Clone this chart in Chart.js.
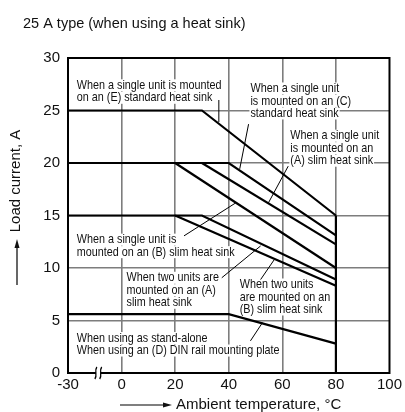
<!DOCTYPE html>
<html>
<head>
<meta charset="utf-8">
<script src="https://cdn.jsdelivr.net/npm/chart.js@4"></script>
<style>
  html, body { margin:0; padding:0; background:#fff; }
  canvas { display:block; }
</style>
</head>
<body>
<canvas id="derating" width="405" height="412"></canvas>
<script>
// ambient temperature (degC) / load current (A) for each curve
const tempE = [-30, 30, 80];        const loadE = [25, 25, 15];
const tempC = [-30, 40, 80];        const loadC = [20, 20, 13.1];
const tempSlimA = [30, 80];         const loadSlimA = [20, 12.25];
const tempSlimB = [20, 80];         const loadSlimB = [20, 10];
const tempTwoA = [-30, 30, 80];     const loadTwoA = [15, 15, 8.9];
const tempTwoB = [20, 80];          const loadTwoB = [15, 8.3];
const tempAlone = [-30, 40, 80];    const loadAlone = [5.6, 5.6, 2.8];
const tempLimit = [80, 80];         const loadLimit = [15, 0];

const xTickLabels = ['-30', '0', '20', '40', '60', '80', '100'];
const yTickLabels = ['0', '5', '10', '15', '20', '25', '30'];

// the -30..0 span is drawn compressed (axis break), -30 sits where -20 would be
const breakX = t => t < 0 ? t * 2 / 3 : t;

const FONT = "'Liberation Sans', Arial, sans-serif";
const NOTE_FONT = "13px 'Liberation Sans', Arial, sans-serif";
const NOTE_SX = 0.83;   // condensed look of the datasheet notes

function curve(xs, ys){
  return {
    data: xs.map((x, i) => ({ x: breakX(x), y: ys[i] })),
    showLine: true,
    borderColor: '#000',
    borderWidth: 2.2,
    pointRadius: 0,
    tension: 0,
    fill: false
  };
}

// notes: position in axis units (first line), leader from/to in axis units
const notes = [
  { lines: ['When a single unit is mounted', 'on an (E) standard heat sink'], x: -16.7, y: 27.4,
    leader: [[36.3, 26.0], [36.3, 23.9]] },
  { lines: ['When a single unit', 'is mounted on an (C)', 'standard heat sink'], x: 48.1, y: 27.1,
    leader: [[47.4, 23.7], [44.1, 19.44]] },
  { lines: ['When a single unit', 'is mounted on an', '(A) slim heat sink'], x: 63.0, y: 22.6,
    leader: [[62.2, 19.7], [54.8, 16.2]] },
  { lines: ['When a single unit is', 'mounted on an (B) slim heat sink'], x: -16.7, y: 12.7,
    leader: [[23.3, 13.06], [42.6, 16.2]] },
  { lines: ['When two units are', 'mounted on an (A)', 'slim heat sink'], x: 1.85, y: 9.07,
    leader: [[37.4, 9.07], [51.9, 12.1]] },
  { lines: ['When two units', 'are mounted on an', '(B) slim heat sink'], x: 44.1, y: 8.43,
    leader: [[51.9, 8.9], [57.0, 10.8]] },
  { lines: ['When using as stand-alone', 'When using an (D) DIN rail mounting plate'], x: -16.7, y: 3.33,
    leader: [[48.1, 3.06], [52.6, 4.8]] }
];
const NOTE_LINE = 12.5;

const notesPlugin = {
  id: 'notes',
  beforeDatasetsDraw(c){
    const {ctx, scales:{x, y}} = c;
    ctx.save();
    ctx.font = NOTE_FONT;
    ctx.fillStyle = '#fff';
    notes.forEach(n => {
      const px = x.getPixelForValue(n.x), py = y.getPixelForValue(n.y);
      n.lines.forEach((t, i) => {
        const w = ctx.measureText(t).width * NOTE_SX;
        ctx.fillRect(px - 1, py + i * NOTE_LINE - 6, w + 2, 12);
      });
    });
    ctx.restore();
  },
  afterDatasetsDraw(c){
    const {ctx, scales:{x, y}} = c;
    ctx.save();
    ctx.font = NOTE_FONT;
    ctx.fillStyle = '#111';
    ctx.textBaseline = 'middle';
    ctx.textAlign = 'left';
    notes.forEach(n => {
      const px = x.getPixelForValue(n.x), py = y.getPixelForValue(n.y);
      ctx.save();
      ctx.translate(px, py);
      ctx.scale(NOTE_SX, 1);
      n.lines.forEach((t, i) => ctx.fillText(t, 0, i * NOTE_LINE));
      ctx.restore();
      ctx.beginPath();
      ctx.strokeStyle = '#000';
      ctx.lineWidth = 1;
      ctx.moveTo(x.getPixelForValue(n.leader[0][0]), y.getPixelForValue(n.leader[0][1]));
      ctx.lineTo(x.getPixelForValue(n.leader[1][0]), y.getPixelForValue(n.leader[1][1]));
      ctx.stroke();
    });
    ctx.restore();
  },
  afterDraw(c){
    const {ctx, chartArea:a, scales:{x}} = c;
    ctx.save();
    // frame
    ctx.strokeStyle = '#000';
    ctx.lineWidth = 2;
    ctx.strokeRect(a.left, a.top, a.right - a.left, a.bottom - a.top);

    // axis break marks
    const b1 = x.getPixelForValue(-9.6), b2 = x.getPixelForValue(-7.8);
    ctx.fillStyle = '#fff';
    ctx.fillRect(b1, a.bottom - 2, b2 - b1, 4);
    ctx.lineWidth = 1.3;
    [b1, b2].forEach(bx => {
      ctx.beginPath();
      ctx.moveTo(bx + 1, a.bottom - 6);
      ctx.bezierCurveTo(bx - 2, a.bottom - 2, bx + 2, a.bottom + 2, bx - 1, a.bottom + 6);
      ctx.stroke();
    });

    // title
    ctx.fillStyle = '#111';
    ctx.font = '14.5px ' + FONT;
    ctx.textBaseline = 'alphabetic';
    ctx.textAlign = 'left';
    ctx.fillText('25 A type (when using a heat sink)', 23, 28);

    // x axis title with arrow
    ctx.font = '15px ' + FONT;
    ctx.textBaseline = 'middle';
    const ty = a.bottom + 32;
    ctx.fillText('Ambient temperature, \u00B0C', a.left + 108, ty);
    ctx.lineWidth = 1.2;
    ctx.beginPath();
    ctx.moveTo(a.left + 52, ty); ctx.lineTo(a.left + 100, ty); ctx.stroke();
    ctx.beginPath();
    ctx.moveTo(a.left + 104, ty); ctx.lineTo(a.left + 95, ty - 2.5); ctx.lineTo(a.left + 95, ty + 2.5);
    ctx.closePath(); ctx.fill();

    // y axis title with arrow
    const tx = 17;
    ctx.save();
    ctx.translate(tx - 1, 181);
    ctx.rotate(-Math.PI / 2);
    ctx.textAlign = 'center';
    ctx.fillText('Load current, A', 0, 0);
    ctx.restore();
    ctx.beginPath();
    ctx.moveTo(tx, 285); ctx.lineTo(tx, 244); ctx.stroke();
    ctx.beginPath();
    ctx.moveTo(tx, 239); ctx.lineTo(tx - 2.5, 248); ctx.lineTo(tx + 2.5, 248);
    ctx.closePath(); ctx.fill();
    ctx.restore();
  }
};

const gridColor = '#7d7d7d';

new Chart(document.getElementById('derating'), {
  type: 'scatter',
  data: {
    datasets: [
      curve(tempE, loadE),
      curve(tempC, loadC),
      curve(tempSlimA, loadSlimA),
      curve(tempSlimB, loadSlimB),
      curve(tempTwoA, loadTwoA),
      curve(tempTwoB, loadTwoB),
      curve(tempAlone, loadAlone),
      curve(tempLimit, loadLimit)
    ]
  },
  options: {
    responsive: false,
    animation: false,
    layout: { padding: { top: 58, right: 13, left: 0, bottom: 0 } },
    plugins: { legend: { display: false }, tooltip: { enabled: false }, title: { display: false } },
    scales: {
      x: {
        type: 'linear', min: -20, max: 100,
        afterFit: s => { s.height = 39; },
        border: { display: false },
        grid: {
          drawTicks: false, lineWidth: 1.6,
          color: ctx => (ctx.tick && (ctx.tick.value <= -20 || ctx.tick.value >= 100)) ? 'rgba(0,0,0,0)' : gridColor
        },
        ticks: {
          stepSize: 20, padding: 3, color: '#111',
          font: { family: FONT, size: 15 },
          callback: (v, i) => xTickLabels[i]
        }
      },
      y: {
        min: 0, max: 30,
        afterFit: s => { s.width = 68; },
        border: { display: false },
        grid: {
          drawTicks: false, lineWidth: 1.6,
          color: ctx => (ctx.tick && (ctx.tick.value <= 0 || ctx.tick.value >= 30)) ? 'rgba(0,0,0,0)' : gridColor
        },
        ticks: {
          stepSize: 5, padding: 8, color: '#111',
          font: { family: FONT, size: 15 },
          callback: (v, i) => yTickLabels[i]
        }
      }
    }
  },
  plugins: [notesPlugin]
});
</script>
</body>
</html>
